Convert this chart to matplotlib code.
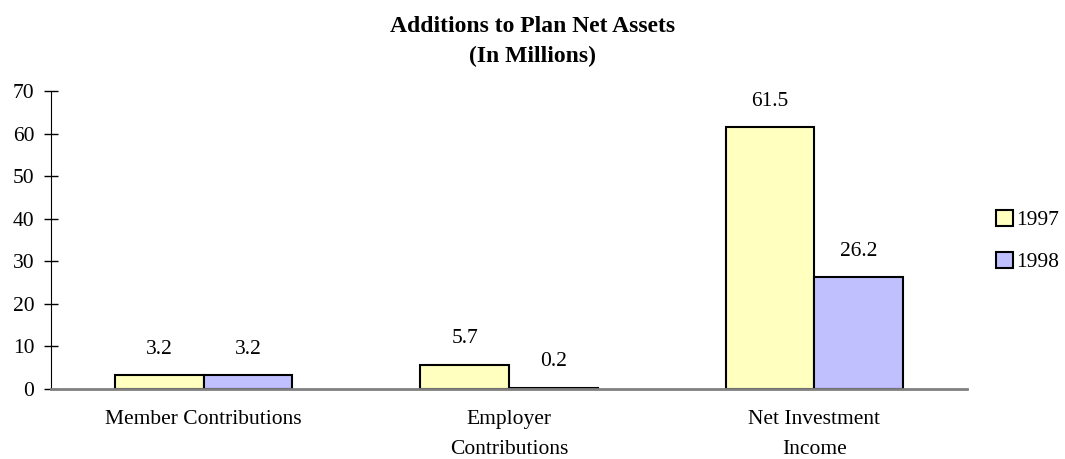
import matplotlib
matplotlib.use("Agg")
import matplotlib.pyplot as plt
import numpy as np

categories = ["Member Contributions", "Employer\nContributions", "Net Investment\nIncome"]
series_names = ["1997", "1998"]
values_1997 = [3.2, 5.7, 61.5]
values_1998 = [3.2, 0.2, 26.2]
y_ticks = [0, 10, 20, 30, 40, 50, 60, 70]

plt.rcParams['font.family'] = ['Liberation Serif', 'DejaVu Serif']

fig = plt.figure(figsize=(10.65, 4.59), dpi=100)
ax = fig.add_axes([51/1065, 70/459, (967-51)/1065, (389-91)/459])

x = np.arange(len(categories))
w = 0.29
colors = ["#FFFFC0", "#C0C0FF"]
b1 = ax.bar(x - w/2, values_1997, w, color=colors[0], edgecolor="black", linewidth=1.5, label=series_names[0], zorder=1)
b2 = ax.bar(x + w/2, values_1998, w, color=colors[1], edgecolor="black", linewidth=1.5, label=series_names[1], zorder=1)

for bars, vals in ((b1, values_1997), (b2, values_1998)):
    for rect, v in zip(bars, vals):
        ax.annotate(f"{v:.1f}", (rect.get_x() + rect.get_width()/2, v),
                    xytext=(0, 12), textcoords="offset points",
                    ha="center", va="bottom", fontsize=15.5)

ax.set_xlim(-0.5, 2.5)
ax.set_ylim(0, 70)
ax.set_yticks(y_ticks)
ax.set_xticks(x)
ax.set_xticklabels(categories, fontsize=15.5, linespacing=1.8)
ax.tick_params(axis='x', length=0, pad=15)
ax.tick_params(axis='y', direction='inout', length=10, width=1, labelsize=15.5, pad=7)
for s in ("top", "right"):
    ax.spines[s].set_visible(False)
ax.spines["left"].set_color("black")
ax.spines["bottom"].set_color("#808080")
ax.spines["bottom"].set_linewidth(2)
ax.spines["bottom"].set_zorder(3)

fig.text(0.5, 1 - 27/459, "Additions to Plan Net Assets", ha="center", va="center",
         fontsize=17, fontweight="bold")
fig.text(0.5, 1 - 56/459, "(In Millions)", ha="center", va="center",
         fontsize=17, fontweight="bold")

leg = fig.legend(handles=[b1, b2], labels=series_names, loc="center left",
                 bbox_to_anchor=(977/1065, 1 - 241/459), frameon=False,
                 fontsize=15.5, handlelength=0.75, handleheight=0.75,
                 handletextpad=0.15, labelspacing=1.0)

fig.savefig("out.png", dpi=100)
